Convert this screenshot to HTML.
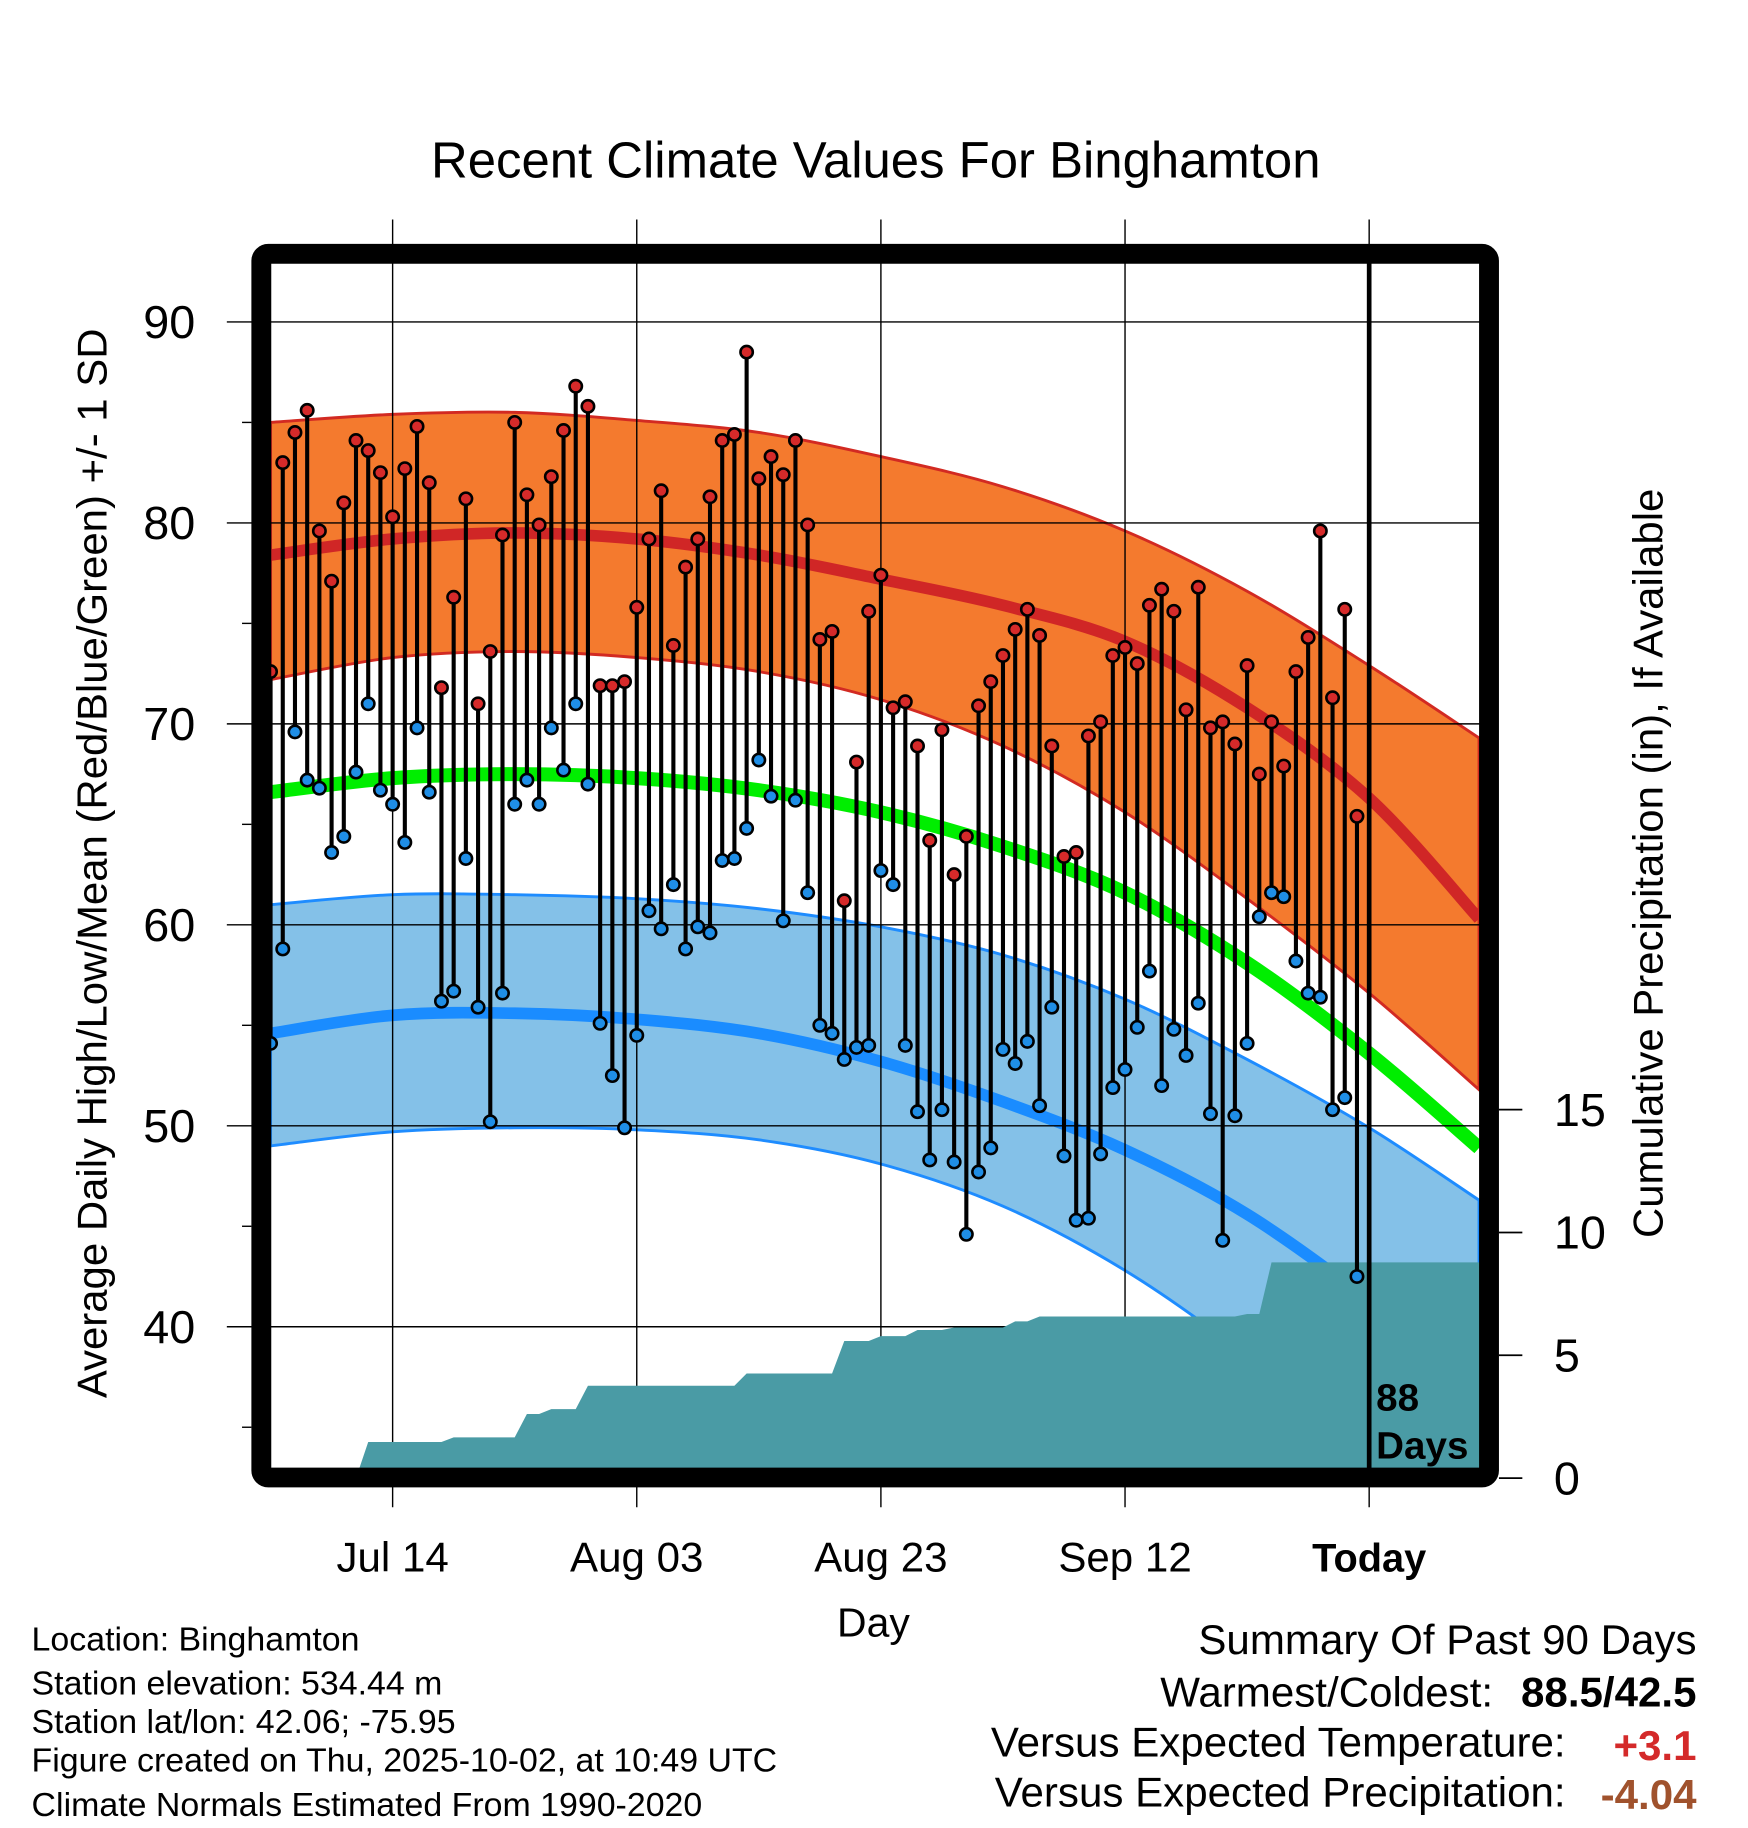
<!DOCTYPE html>
<html><head><meta charset="utf-8"><style>
html,body{margin:0;padding:0;background:#fff}
svg{display:block}
text{font-family:"Liberation Sans",sans-serif}
</style></head><body>
<svg id="chart" width="1748" height="1828" viewBox="1 -1.5 1495 1570" preserveAspectRatio="none" xmlns="http://www.w3.org/2000/svg">
<rect x="-10" y="-10" width="1520" height="1600" fill="#fff"/>
<defs><clipPath id="plotclip"><rect x="232" y="224" width="1035" height="1036"/></clipPath></defs>
<g id="bands" clip-path="url(#plotclip)"></g>
<g id="grid"></g>
<g id="precip" clip-path="url(#plotclip)"></g>
<g id="marks"></g>
<g id="frame"></g>
<g id="axes"></g>
<text x="750" y="151" font-size="43.5" text-anchor="middle">Recent Climate Values For Binghamton</text>
<text transform="translate(92,740) rotate(-90)" font-size="36" text-anchor="middle">Average Daily High/Low/Mean (Red/Blue/Green) +/- 1 SD</text>
<text transform="translate(1423,740) rotate(-90)" font-size="36" text-anchor="middle">Cumulative Precipitation (in), If Available</text>
<text x="748" y="1404" font-size="35" text-anchor="middle">Day</text>
<g font-size="29">
<text x="28" y="1416">Location: Binghamton</text>
<text x="28" y="1454">Station elevation: 534.44 m</text>
<text x="28" y="1487">Station lat/lon: 42.06; -75.95</text>
<text x="28" y="1520">Figure created on Thu, 2025-10-02, at 10:49 UTC</text>
<text x="28" y="1558">Climate Normals Estimated From 1990-2020</text>
</g>
<g font-size="36">
<text x="1452" y="1419" text-anchor="end">Summary Of Past 90 Days</text>
<text x="1278" y="1464" text-anchor="end">Warmest/Coldest:</text>
<text x="1452" y="1464" text-anchor="end" font-weight="bold">88.5/42.5</text>
<text x="1340" y="1507" text-anchor="end">Versus Expected Temperature:</text>
<text x="1452" y="1510" text-anchor="end" font-weight="bold" fill="#d42a2a">+3.1</text>
<text x="1340" y="1550" text-anchor="end">Versus Expected Precipitation:</text>
<text x="1452" y="1552" text-anchor="end" font-weight="bold" fill="#a0522d">-4.04</text>
</g>
</svg>
<script>
const normDays=[-90,-80,-70,-60,-50,-40,-30,-20,-10,0,9];
const redUpper=[85.0,85.4,85.5,85.1,84.5,83.3,81.8,79.6,76.6,72.9,69.3];
const redMean=[78.4,79.2,79.5,79.2,78.4,77.2,75.9,74.1,70.8,66.3,60.3];
const redLower=[72.2,73.3,73.6,73.3,72.6,71.2,68.9,65.6,61.3,56.6,51.8];
const greenMean=[66.6,67.3,67.5,67.3,66.7,65.6,63.9,61.6,58.1,53.6,48.9];
const blueUpper=[61.0,61.5,61.5,61.3,60.8,59.9,58.5,56.3,53.3,49.9,46.3];
const blueMean=[54.6,55.5,55.6,55.3,54.6,53.2,51.2,48.8,45.6,41.3,36.8];
const blueLower=[49.0,49.7,49.9,49.8,49.3,48.1,46.0,42.8,38.6,34.0,30.0];
const highs=[72.6,83.0,84.5,85.6,79.6,77.1,81.0,84.1,83.6,82.5,80.3,82.7,84.8,82.0,71.8,76.3,81.2,71.0,73.6,79.4,85.0,81.4,79.9,82.3,84.6,86.8,85.8,71.9,71.9,72.1,75.8,79.2,81.6,73.9,77.8,79.2,81.3,84.1,84.4,88.5,82.2,83.3,82.4,84.1,79.9,74.2,74.6,61.2,68.1,75.6,77.4,70.8,71.1,68.9,64.2,69.7,62.5,64.4,70.9,72.1,73.4,74.7,75.7,74.4,68.9,63.4,63.6,69.4,70.1,73.4,73.8,73.0,75.9,76.7,75.6,70.7,76.8,69.8,70.1,69.0,72.9,67.5,70.1,67.9,72.6,74.3,79.6,71.3,75.7,65.4];
const lows=[54.1,58.8,69.6,67.2,66.8,63.6,64.4,67.6,71.0,66.7,66.0,64.1,69.8,66.6,56.2,56.7,63.3,55.9,50.2,56.6,66.0,67.2,66.0,69.8,67.7,71.0,67.0,55.1,52.5,49.9,54.5,60.7,59.8,62.0,58.8,59.9,59.6,63.2,63.3,64.8,68.2,66.4,60.2,66.2,61.6,55.0,54.6,53.3,53.9,54.0,62.7,62.0,54.0,50.7,48.3,50.8,48.2,44.6,47.7,48.9,53.8,53.1,54.2,51.0,55.9,48.5,45.3,45.4,48.6,51.9,52.8,54.9,57.7,52.0,54.8,53.5,56.1,50.6,44.3,50.5,54.1,60.4,61.6,61.4,58.2,56.6,56.4,50.8,51.4,42.5];
const dailyPrecip=[0,0,0,0,0,0,0,0,1.47,0,0,0,0,0,0,0.19,0,0,0,0,0,0.95,0,0.2,0,0,0.95,0,0,0,0,0,0,0,0,0,0,0,0,0.5,0,0,0,0,0,0,0,1.32,0,0,0.2,0,0,0.25,0,0,0.1,0,0,0,0,0.25,0,0.2,0,0,0,0,0,0,0,0,0,0,0,0,0,0,0,0,0.1,0,2.1,0,0,0,0,0,0,0];
const tempTicks=[40,50,60,70,80,90];
const precipTicks=[0,5,10,15];
const xTickDays=[-80,-60,-40,-20,0];
const xTickLabels=["Jul 14","Aug 03","Aug 23","Sep 12","Today"];

const NS="http://www.w3.org/2000/svg";
const X=d=>1172+10.44*d;
const Y=v=>275+(90-v)*17.26;
const P=p=>1268-p*21.1;
function mk(tag,attrs,parent){const e=document.createElementNS(NS,tag);for(const k in attrs)e.setAttribute(k,attrs[k]);parent.appendChild(e);return e;}
function pts(vals){return normDays.map((d,i)=>[X(d),Y(vals[i])]);}
function smooth(p){let s="M"+p[0][0]+","+p[0][1];for(let i=0;i<p.length-1;i++){const p0=p[Math.max(i-1,0)],p1=p[i],p2=p[i+1],p3=p[Math.min(i+2,p.length-1)];const c1=[p1[0]+(p2[0]-p0[0])/6,p1[1]+(p2[1]-p0[1])/6],c2=[p2[0]-(p3[0]-p1[0])/6,p2[1]-(p3[1]-p1[1])/6];s+=" C"+c1+" "+c2+" "+p2;}return s;}
function bandPath(up,lo){const a=smooth(pts(up));const r=pts(lo).reverse();return a+" L"+smooth(r).slice(1)+" Z";}
const bands=document.getElementById('bands');
let e;
e=mk('path',{d:bandPath(redUpper,redLower),fill:'#f47a2e',stroke:'#d22a22','stroke-width':2.5},bands);


e=mk('path',{d:smooth(pts(redMean)),fill:'none',stroke:'#d02626','stroke-width':10},bands);


e=mk('path',{d:smooth(pts(greenMean)),fill:'none',stroke:'#00ee00','stroke-width':12},bands);


e=mk('path',{d:bandPath(blueUpper,blueLower),fill:'#84c1e8',stroke:'#1e8cff','stroke-width':2.5},bands);


e=mk('path',{d:smooth(pts(blueMean)),fill:'none',stroke:'#1a8cff','stroke-width':10},bands);



const grid=document.getElementById('grid');
tempTicks.forEach(t=>{e=mk('line',{x1:195,x2:1267,y1:Y(t),y2:Y(t),stroke:'#000','stroke-width':1.2},grid);

});
xTickDays.forEach(d=>{e=mk('line',{x1:X(d),x2:X(d),y1:187,y2:1293,stroke:'#000','stroke-width':1.2},grid);

});

const pg=document.getElementById('precip');
let cum=0;let pp=[[232,1262],[X(-90),P(0)]];
dailyPrecip.forEach((v,i)=>{cum+=v;pp.push([X(-90+i),P(cum)]);});
pp.push([1268,P(cum)]);pp.push([1268,1262]);
e=mk('polygon',{points:pp.map(p=>p.join(',')).join(' '),fill:'#4a9ba5'},pg);



const mg=document.getElementById('marks');
highs.forEach((h,i)=>{const x=X(-90+i);
e=mk('line',{x1:x,x2:x,y1:Y(h),y2:Y(lows[i]),stroke:'#000','stroke-width':3.5},mg);

});
highs.forEach((h,i)=>{const x=X(-90+i);
e=mk('circle',{cx:x,cy:Y(h),r:5.3,fill:'#d62a2a',stroke:'#000','stroke-width':2.2},mg);


e=mk('circle',{cx:x,cy:Y(lows[i]),r:5.3,fill:'#1f8ee6',stroke:'#000','stroke-width':2.2},mg);

});
e=mk('line',{x1:X(0),x2:X(0),y1:224,y2:1262,stroke:'#000','stroke-width':4},mg);


e=mk('text',{x:1178,y:1210,'font-size':33,'font-weight':'bold'},mg);e.textContent='88';


e=mk('text',{x:1178,y:1251,'font-size':33,'font-weight':'bold'},mg);e.textContent='Days';



const fr=document.getElementById('frame');
e=mk('rect',{x:224.5,y:216.5,width:1050,height:1051,rx:6,fill:'none',stroke:'#000','stroke-width':17},fr);



const ax=document.getElementById('axes');
tempTicks.forEach(t=>{e=mk('text',{x:168,y:Y(t)+14,'font-size':40,'text-anchor':'end'},ax);e.textContent=t;

});
[35,45,55,65,75,85].forEach(t=>{e=mk('line',{x1:208,x2:216,y1:Y(t),y2:Y(t),stroke:'#000','stroke-width':1.2},ax);

});
precipTicks.forEach(p=>{e=mk('line',{x1:1283,x2:1303,y1:P(p),y2:P(p),stroke:'#000','stroke-width':1.5},ax);


e=mk('text',{x:1330,y:P(p)+14,'font-size':40},ax);e.textContent=p;

});
xTickDays.forEach((d,i)=>{e=mk('text',{x:X(d),y:1348,'font-size':d===0?34:36,'text-anchor':'middle','font-weight':d===0?'bold':'normal'},ax);e.textContent=xTickLabels[i];

});
</script>
</body></html>
